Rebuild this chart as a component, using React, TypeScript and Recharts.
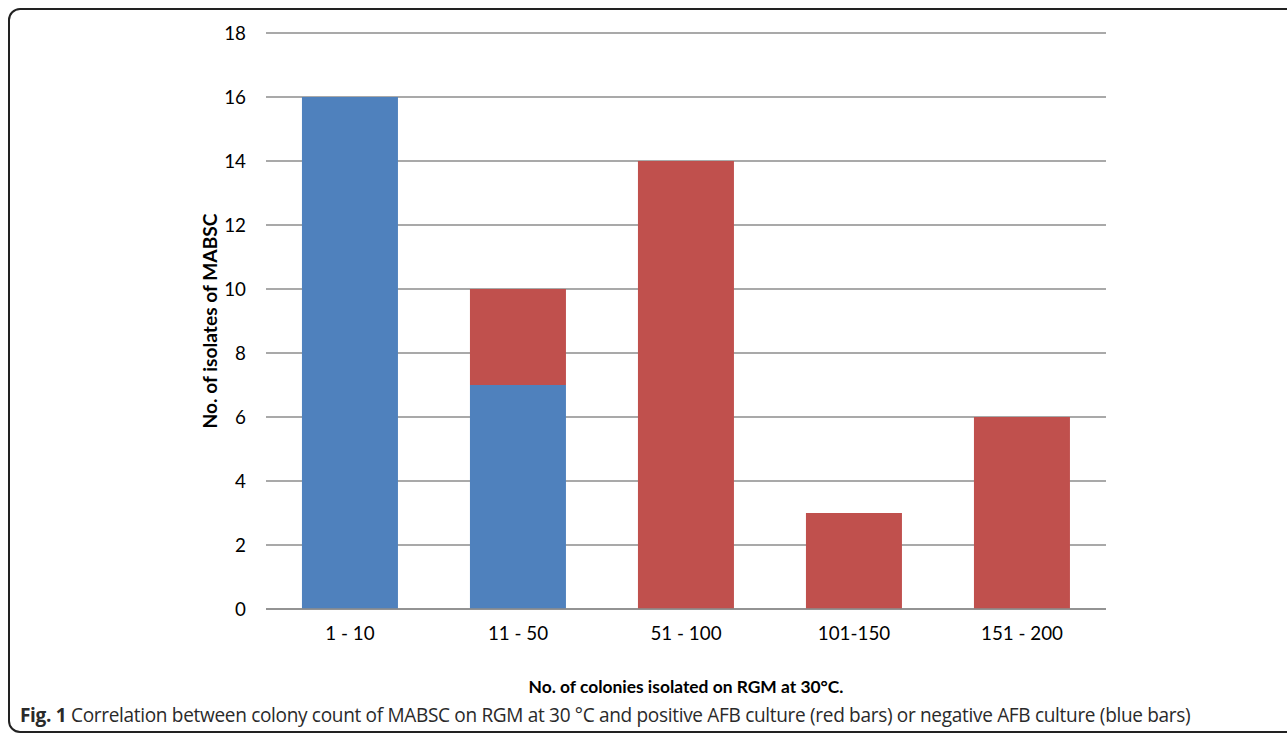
import React from 'react';
import { BarChart, Bar, XAxis, YAxis, CartesianGrid } from 'recharts';

const categories = ['1 - 10', '11 - 50', '51 - 100', '101-150', '151 - 200'];
const negativeAFB = [16, 7, 0, 0, 0];
const positiveAFB = [0, 3, 14, 3, 6];
const yTicks = [0, 2, 4, 6, 8, 10, 12, 14, 16, 18];

const data = categories.map((c, i) => ({ name: c, neg: negativeAFB[i], pos: positiveAFB[i] }));

const FONT = 'Lato, "Open Sans", sans-serif';

const YTitle = (props: any) => {
  const vb = props.viewBox || {};
  return (
    <text
      x={209}
      y={vb.y + vb.height / 2}
      transform={`rotate(-90, 209, ${vb.y + vb.height / 2})`}
      textAnchor="middle"
      dominantBaseline="central"
      fontFamily={FONT}
      fontWeight="bold"
      fontSize={19.2}
      fill="#000"
    >
      No. of isolates of MABSC
    </text>
  );
};

const XTitle = (props: any) => {
  const vb = props.viewBox || {};
  return (
    <text
      x={686}
      y={vb.y + 77}
      textAnchor="middle"
      dominantBaseline="central"
      fontFamily={FONT}
      fontWeight="bold"
      fontSize={17.4}
      fill="#000"
    >
      No. of colonies isolated on RGM at 30°C.
    </text>
  );
};

export default function App() {
  return (
    <div style={{ position: 'fixed', left: 0, top: 0, width: 1287, height: 743, background: '#fff', overflow: 'hidden' }}>
      <div
        style={{
          position: 'absolute',
          left: 8,
          top: 8,
          width: 1300,
          height: 725,
          border: '2px solid #222',
          borderRadius: 12,
          boxSizing: 'border-box',
        }}
      />
      <div style={{ position: 'absolute', left: 0, top: 0 }}>
        <BarChart
          width={1287}
          height={743}
          data={data}
          margin={{ top: 33, right: 181, bottom: 0, left: 0 }}
          barCategoryGap="21.4%"
        >
          <CartesianGrid vertical={false} stroke="#8c8c8c" strokeWidth={1.3} />
          <XAxis
            dataKey="name"
            height={134}
            axisLine={{ stroke: '#8c8c8c', strokeWidth: 1.3 }}
            tickLine={false}
            tickSize={0}
            tickMargin={18}
            tick={{ fontFamily: FONT, fontSize: 18.8, fill: '#000' }}
            interval={0}
            label={{ content: XTitle }}
          />
          <YAxis
            width={266}
            domain={[0, 18]}
            ticks={yTicks}
            axisLine={false}
            tickLine={false}
            tickSize={0}
            tickMargin={20}
            tick={{ fontFamily: FONT, fontSize: 18.8, fill: '#000' }}
            label={{ content: YTitle }}
          />
          <Bar dataKey="neg" stackId="a" fill="#4F81BD" isAnimationActive={false} />
          <Bar dataKey="pos" stackId="a" fill="#C0504D" isAnimationActive={false} />
        </BarChart>
      </div>
      <div
        style={{
          position: 'absolute',
          left: 20,
          top: 702,
          fontFamily: '"Open Sans", sans-serif',
          fontSize: 19.05,
          color: '#2a2a2a',
          whiteSpace: 'nowrap',
          letterSpacing: -0.32,
        }}
      >
        <b>Fig. 1</b> Correlation between colony count of MABSC on RGM at 30 °C and positive AFB culture (red bars) or negative AFB culture (blue bars)
      </div>
    </div>
  );
}
